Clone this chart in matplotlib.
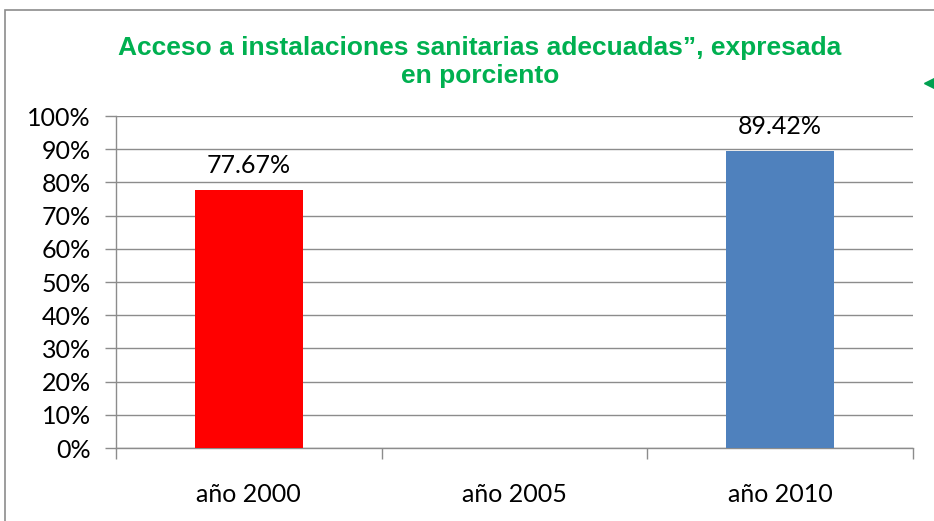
import matplotlib
matplotlib.use("Agg")
import matplotlib.pyplot as plt
from matplotlib.patches import Rectangle
import numpy as np

categories = ["año 2000", "año 2005", "año 2010"]
values = [77.67, np.nan, 89.42]
bar_colors = ["#FF0000", "#4F81BD", "#4F81BD"]
value_labels = ["77.67%", "", "89.42%"]
yticks = [0, 10, 20, 30, 40, 50, 60, 70, 80, 90, 100]
ytick_labels = [f"{t}%" for t in yticks]
title = "Acceso a instalaciones sanitarias adecuadas”, expresada\nen porciento"

W, H = 934, 521
fig = plt.figure(figsize=(W / 100, H / 100), dpi=100)
fig.patch.set_facecolor("white")

# outer chart border
fig.add_artist(Rectangle((5 / W, -0.05), 1.2, (H - 10) / H + 0.05, transform=fig.transFigure,
                         fill=False, edgecolor="#8C8C8C", linewidth=1.2))

ax = fig.add_axes([116 / W, (H - 448) / H, (913 - 116) / W, (448 - 116) / H])
x = np.arange(len(categories))
ax.bar(x, np.nan_to_num(values), width=0.407, color=bar_colors, zorder=3)
ax.set_xlim(-0.5, len(categories) - 0.5)
ax.set_ylim(0, 100)

tick_font = "Lato"
fs = 18
for xi, v, lab in zip(x, values, value_labels):
    if lab:
        ax.text(xi, v + 4.0, lab, ha="center", va="bottom", fontsize=fs, family=tick_font, color="black")

ax.set_yticks(yticks)
ax.set_yticklabels(ytick_labels, family=tick_font, fontsize=fs)
ax.set_xticks(np.arange(-0.5, len(categories) + 0.5, 1.0), minor=False)
ax.set_xticklabels([])
ax.set_xticks(x, minor=True)
ax.set_xticklabels(categories, minor=True, family=tick_font, fontsize=fs)
ax.tick_params(axis="x", which="major", length=8, color="#8C8C8C", width=1)
ax.tick_params(axis="x", which="minor", length=0, pad=25)
ax.tick_params(axis="y", length=8, color="#8C8C8C", width=1, pad=10)
ax.grid(axis="y", color="#8C8C8C", linewidth=1, zorder=0)
for s in ["top", "right"]:
    ax.spines[s].set_visible(False)
for s in ["left", "bottom"]:
    ax.spines[s].set_color("#8C8C8C")
    ax.spines[s].set_linewidth(1)

fig.text(480 / W, 1 - 62 / H, title, ha="center", va="center", fontsize=19, fontweight="bold",
         color="#00B050", family=["Liberation Sans Narrow", "Liberation Sans"], linespacing=1.25)

# small green arrow marker at right edge
fig.add_artist(plt.Line2D([930 / W], [1 - 83 / H], marker="<", markersize=8, color="#00A050",
                          transform=fig.transFigure))

fig.savefig("out.png", dpi=100)
